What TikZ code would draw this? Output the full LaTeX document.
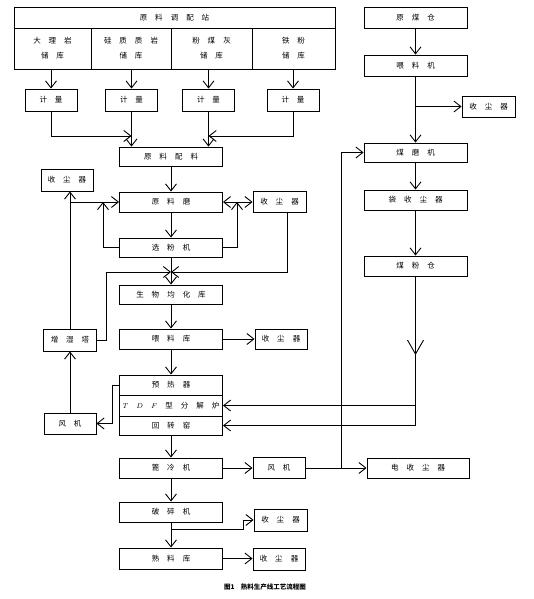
\documentclass[tikz,border=0pt]{standalone}
\usepackage{fontspec}
\newfontfamily\cjk{Noto Sans CJK SC}
\newcommand\boxfont{\cjk\fontsize{7.5}{15}\selectfont\spaceskip 8pt\relax}
\usetikzlibrary{arrows.meta}

\begin{document}
\begin{tikzpicture}[x=1pt, y=-1pt, line width=0.9pt,
	>={Straight Barb[length=7pt,width=11pt]},
	main node/.style={draw, inner sep=0pt, minimum width=103pt, minimum height=20pt, font=\boxfont},
	small node/.style={main node, minimum width=52pt, minimum height=21pt},
	store node/.style={main node, minimum height=41pt, align=center}]
	\useasboundingbox (0,0) rectangle (534,599);

	% raw material station
	\node[main node, minimum width=321pt, minimum height=21pt] (st) at (174.5,17.5) {原 料 调 配 站};
	\node[store node, minimum width=77pt] (s1) at (52.5,48.5) {大 理 岩\\储 库};
	\node[store node, minimum width=80pt] (s2) at (131,48.5) {硅 质 质 岩\\储 库};
	\node[store node, minimum width=81pt] (s3) at (211.5,48.5) {粉 煤 灰\\储 库};
	\node[store node, minimum width=83pt] (s4) at (293.5,48.5) {铁 粉\\储 库};

	\node[small node, minimum height=22pt] (m1) at (51,100) {计 量};
	\node[small node, minimum height=22pt] (m2) at (131.5,100) {计 量};
	\node[small node, minimum height=22pt] (m3) at (208.5,100) {计 量};
	\node[small node, minimum height=22pt] (m4) at (293,100) {计 量};

	% main line
	\node[main node, minimum height=19pt] (pl) at (171,156.5) {原 料 配 料};
	\node[main node] (mill) at (171,202) {原 料 磨};
	\node[main node, minimum height=19pt] (sep) at (171,247.5) {选 粉 机};
	\node[main node, minimum height=19pt] (bio) at (171,294.5) {生 物 均 化 库};
	\node[main node] (feed) at (171,339) {喂 料 库};
	\node[main node] (ph) at (171,385) {预 热 器};
	\node[main node, minimum height=21pt] (tdf) at (171,405.5) {$T$ $D$ $F$ 型 分 解 炉};
	\node[main node, minimum height=19pt] (kiln) at (171,425.5) {回 转 窑};
	\node[main node] (cool) at (171,468) {篦 冷 机};
	\node[main node] (cr) at (171,512) {破 碎 机};
	\node[main node, minimum height=21pt] (ck) at (171,558.5) {熟 料 库};

	% side boxes
	\node[small node, minimum height=22pt] (dcL) at (67,180) {收 尘 器};
	\node[small node, minimum width=53pt, minimum height=22pt] (hum) at (70,340) {增 湿 塔};
	\node[small node] (fanL) at (70,423.5) {风 机};
	\node[small node, minimum width=53pt] (dcR1) at (279.5,202) {收 尘 器};
	\node[small node, minimum height=20pt] (dcR2) at (281,339) {收 尘 器};
	\node[small node] (fanM) at (279,468) {风 机};
	\node[main node, minimum width=102pt] (esp) at (418,468) {电 收 尘 器};
	\node[small node, minimum width=53pt, minimum height=22pt] (dcR3) at (280.5,520) {收 尘 器};
	\node[small node, minimum height=22pt] (dcR4) at (279,559) {收 尘 器};

	% coal line
	\node[main node, minimum height=21pt] (rc) at (415.5,17.5) {原 煤 仓};
	\node[main node, minimum height=21pt] (fd) at (415.5,65.5) {喂 料 机};
	\node[small node, minimum width=53pt] (dcC) at (488.5,106.5) {收 尘 器};
	\node[main node, minimum height=19pt] (cm) at (415.5,152.5) {煤 磨 机};
	\node[main node] (bag) at (415.5,200) {袋 收 尘 器};
	\node[main node] (cb) at (415.5,266) {煤 粉 仓};

	\node[font=\cjk\bfseries\fontsize{6.5}{8}\selectfont] (cap) at (265,587) {图1\quad 熟料生产线工艺流程图};

	\coordinate (j1) at (131.5,136);
	\coordinate (j2) at (208.5,136);
	\coordinate (jl) at (103,202);
	\coordinate (jr) at (237,202);
	\coordinate (jm) at (171,272);
	\coordinate (jf) at (341,468);

	% dosing
	\draw[->] (m1 |- s1.south) -- (m1.north);
	\draw[->] (m2 |- s2.south) -- (m2.north);
	\draw[->] (m3 |- s3.south) -- (m3.north);
	\draw[->] (m4 |- s4.south) -- (m4.north);
	\draw[->] (m1.south) |- (j1);
	\draw[->] (m2.south) -- (m2 |- pl.north);
	\draw[->] (m3.south) -- (m3 |- pl.north);
	\draw[->] (m4.south) |- (j2);

	% raw mill circuit
	\draw[->] (pl.south) -- (mill.north);
	\draw[->] (mill.south) -- (sep.north);
	\draw[->] (sep.west) -| (jl);
	\draw[->] (sep.east) -| (jr);
	\draw[<->] (mill.east) -- (mill.east -| dcR1.west);
	\draw[->] (hum.north) -- (hum.north |- dcL.south);
	\draw[->] (hum.north |- mill.west) -- (mill.west);
	\draw[->] (sep.south) -- (bio.north);
	\draw[->] ([xshift=8pt]dcR1.south) |- (jm);
	\draw[->] (hum.east) -| (106,272) -- (jm);
	\draw[->] (bio.south) -- (feed.north);
	\draw[->] (feed.east) -- (dcR2.west);
	\draw[->] (feed.south) -- (ph.north);

	% kiln
	\draw[->] (ph.west) -- ++(-7,0) |- (fanL.east);
	\draw[->] (fanL.north) -- (hum.south);
	\draw[->] (kiln.south) -- (cool.north);
	\draw[->] (cool.east) -- (fanM.west);
	\draw[->] (fanM.east) -- (esp.west);
	\draw[->] (jf) |- (cm.west);
	\draw[->] (cool.south) -- (cr.north);
	\draw[->] (cr.south) -- (ck.north);
	\draw[->] ([yshift=-7pt]cr.south) -- ++(72,0) |- (dcR3.west);
	\draw[->] (ck.east) -- (ck.east -| dcR4.west);

	% coal
	\draw[->] (rc.south) -- (fd.north);
	\draw[->] (fd.south) -- (cm.north);
	\draw[->] (fd.south |- dcC.west) -- (dcC.west);
	\draw[->] (cm.south) -- (bag.north);
	\draw[->] (bag.south) -- (cb.north);
	\draw[-{Straight Barb[length=14pt,width=16pt]}] (cb.south) -- (415.5,355);
	\draw[->] (cb.south) |- (kiln.east);
	\draw[->] (cb.south |- tdf.east) -- (tdf.east);
\end{tikzpicture}
\end{document}
